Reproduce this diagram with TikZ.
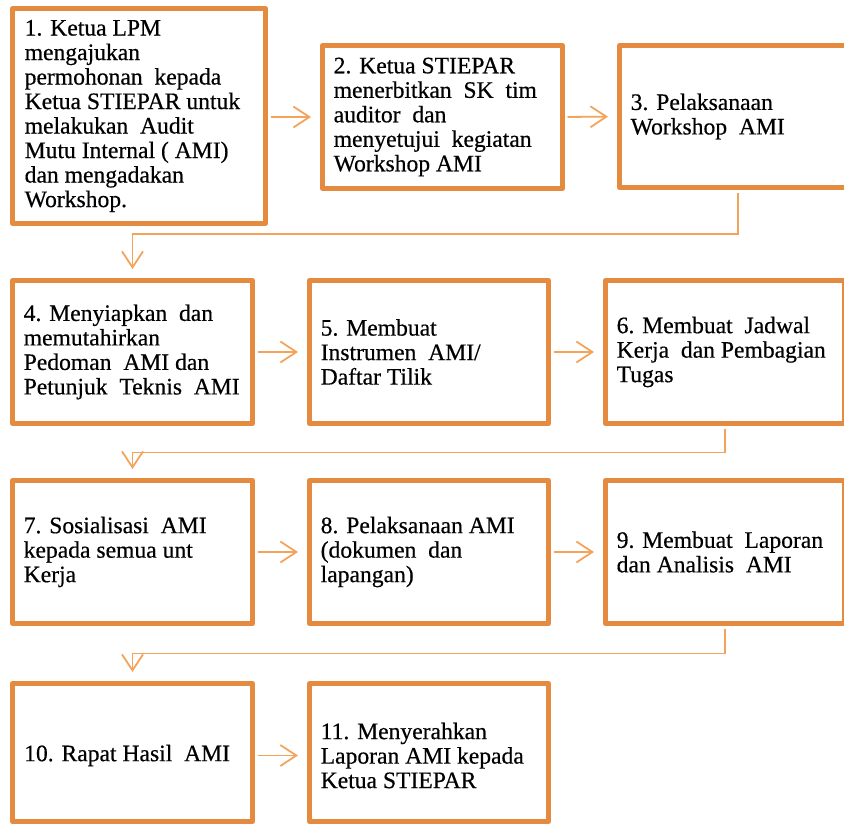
\documentclass[tikz,border=0pt]{standalone}
\usepackage{fontspec}
\setmainfont{Liberation Serif}
\newfontfamily\tnr{Liberation Serif}[FakeBold=0.5]
\usetikzlibrary{arrows.meta}
\definecolor{boxc}{RGB}{229,139,64}
\definecolor{linec}{RGB}{244,163,90}
\begin{document}
\begin{tikzpicture}[x=1pt,y=-1pt,
  boxnode/.style={draw=boxc, line width=5pt, rectangle, inner sep=0pt, line join=round},
  txt/.style={anchor=west, inner sep=0pt, align=left, font=\tnr\fontsize{23.6}{24.5}\selectfont},
  conn/.style={draw=linec, line width=1.8pt, -{Straight Barb[length=16pt,width=21pt]}, shorten >=9pt, shorten <=2.5pt}]
\useasboundingbox (0,0) rectangle (844,823);
\begin{scope}
\clip (0,0) rectangle (844,823);
% row 1
\node[boxnode, minimum width=253pt, minimum height=215pt] (b1) at (139,116) {};
\node[boxnode, minimum width=240pt, minimum height=143pt] (b2) at (442.5,117) {};
\node[boxnode, minimum width=237pt, minimum height=142pt] (b3) at (738,116.5) {};
% row 2
\node[boxnode, minimum width=240pt, minimum height=143pt] (b4) at (132.5,352) {};
\node[boxnode, minimum width=239pt, minimum height=143pt] (b5) at (429,352) {};
\node[boxnode, minimum width=239pt, minimum height=143pt] (b6) at (725,352) {};
% row 3
\node[boxnode, minimum width=240pt, minimum height=143pt] (b7) at (132.5,552) {};
\node[boxnode, minimum width=239pt, minimum height=143pt] (b8) at (429,552) {};
\node[boxnode, minimum width=239pt, minimum height=143pt] (b9) at (725,552) {};
% row 4
\node[boxnode, minimum width=240pt, minimum height=138pt] (b10) at (132.5,752.5) {};
\node[boxnode, minimum width=239pt, minimum height=138pt] (b11) at (429,752.5) {};

% texts
\node[txt] (t1) at ([xshift=14.5pt]b1.west) {1. Ketua LPM\\mengajukan\\permohonan~ kepada\\Ketua STIEPAR untuk\\melakukan~ Audit\\Mutu Internal ( AMI)\\dan mengadakan\\Workshop.};
\node[txt] (t2) at ([xshift=13.5pt]b2.west) {2. Ketua STIEPAR\\menerbitkan~ SK~ tim\\auditor~ dan\\menyetujui~ kegiatan\\Workshop AMI};
\node[txt] (t3) at ([xshift=13.5pt]b3.west) {3. Pelaksanaan\\Workshop~ AMI};
\node[txt] (t4) at ([xshift=13.5pt]b4.west) {4. Menyiapkan~ dan\\memutahirkan\\Pedoman~ AMI dan\\Petunjuk~ Teknis~ AMI};
\node[txt] (t5) at ([xshift=13.5pt]b5.west) {5. Membuat\\Instrumen~ AMI/\\Daftar Tilik};
\node[txt] (t6) at ([xshift=13.5pt]b6.west) {6. Membuat~ Jadwal\\Kerja~ dan Pembagian\\Tugas};
\node[txt] (t7) at ([xshift=13.5pt]b7.west) {7. Sosialisasi~ AMI\\kepada semua unt\\Kerja};
\node[txt] (t8) at ([xshift=13.5pt]b8.west) {8. Pelaksanaan AMI\\(dokumen~ dan\\lapangan)};
\node[txt] (t9) at ([xshift=13.5pt]b9.west) {9. Membuat~ Laporan\\dan Analisis~ AMI};
\node[txt] (t10) at ([xshift=14pt,yshift=-3pt]b10.west) {10. Rapat Hasil~ AMI};
\node[txt] (t11) at ([xshift=13.5pt,yshift=-3pt]b11.west) {11. Menyerahkan\\Laporan AMI kepada\\Ketua STIEPAR};

% bend coordinates
\coordinate (k1) at (400,234);
\coordinate (k2) at (400,452.5);
\coordinate (k3) at (400,653.5);

% connectors
\draw[conn] (b1.east |- b2.west) -- (b2.west);
\draw[conn] (b2.east) -- (b3.west);
\draw[conn] (b3.south) |- (k1) -| (b4.north);
\draw[conn] (b4.east) -- (b5.west);
\draw[conn] (b5.east) -- (b6.west);
\draw[conn] (b6.south) |- (k2) -| (b7.north);
\draw[conn] (b7.east) -- (b8.west);
\draw[conn] (b8.east) -- (b9.west);
\draw[conn] (b9.south) |- (k3) -| (b10.north);
\draw[conn] ([yshift=-3pt]b10.east) -- ([yshift=-3pt]b11.west);
\end{scope}
\end{tikzpicture}
\end{document}
